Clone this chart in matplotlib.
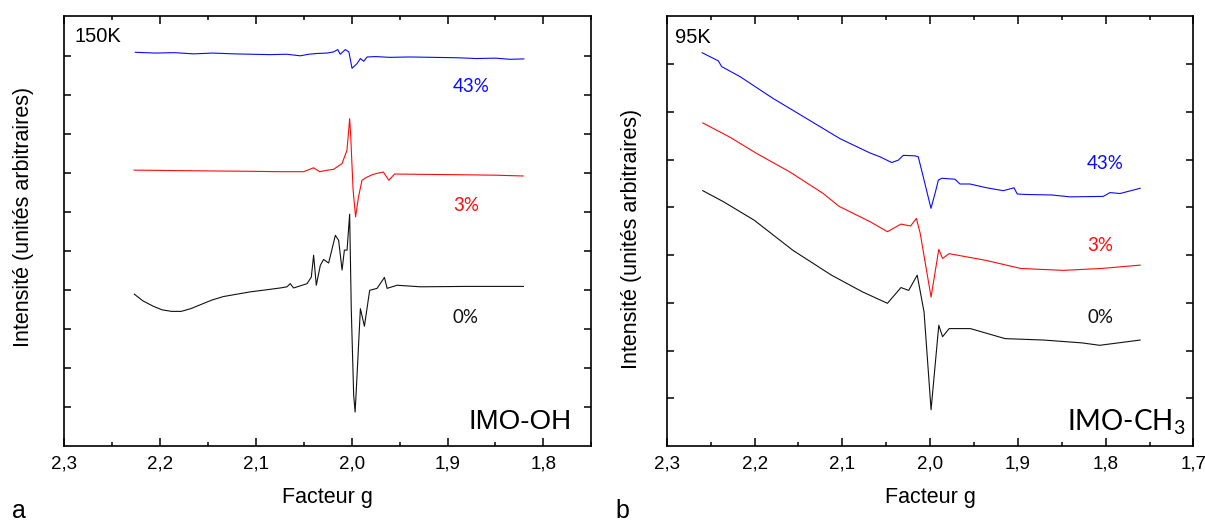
import matplotlib
matplotlib.use("Agg")
import matplotlib.pyplot as plt
from matplotlib.ticker import MultipleLocator

plt.rcParams['mathtext.fontset'] = 'custom'
plt.rcParams['mathtext.rm'] = 'Lato'

# ---------------- data: panel a (IMO-OH, 150K) ----------------
g_a_43 = [2.226, 2.205, 2.185, 2.165, 2.145, 2.1234, 2.105, 2.085, 2.068, 2.0537,
          2.045, 2.0363, 2.026, 2.0189, 2.0147, 2.012, 2.0067, 2.003, 1.9997, 1.9945,
          1.991, 1.9876, 1.984, 1.975, 1.96, 1.94, 1.9144, 1.89, 1.87, 1.85,
          1.835, 1.8204]
y_a_43 = [9.09, 9.07, 9.08, 9.05, 9.07, 9.05, 9.04, 9.03, 9.04, 9.00,
          9.04, 9.06, 9.07, 9.10, 9.16, 9.04, 9.16, 9.10, 8.68, 8.80,
          8.93, 8.86, 8.97, 8.98, 8.96, 8.97, 8.96, 8.95, 8.93, 8.94,
          8.91, 8.92]

g_a_3 = [2.227, 2.19, 2.15, 2.106, 2.075, 2.0503, 2.0398, 2.0335, 2.025, 2.019,
         2.0101, 2.005, 2.0035, 2.0022, 2.0012, 1.9986, 1.996, 1.993, 1.9893, 1.985,
         1.978, 1.9713, 1.967, 1.9613, 1.9553, 1.92, 1.88, 1.85, 1.821]
y_a_3 = [6.07, 6.06, 6.05, 6.04, 6.03, 6.03, 6.13, 6.03, 6.07, 6.09,
         6.24, 6.58, 7.00, 7.39, 7.00, 5.56, 4.87, 5.38, 5.81, 5.88,
         5.96, 6.00, 6.02, 5.81, 5.97, 5.96, 5.95, 5.94, 5.92]

g_a_0 = [2.2269, 2.218, 2.207, 2.198, 2.188, 2.178, 2.168, 2.158, 2.146, 2.134,
         2.12, 2.106, 2.09, 2.0746, 2.0676, 2.0642, 2.0607, 2.0467, 2.0422, 2.0398,
         2.037, 2.0328, 2.0294, 2.0241, 2.0171, 2.0137, 2.0101, 2.0077, 2.0049, 2.0022,
         2.0005, 1.998, 1.9965, 1.9945, 1.991, 1.9868, 1.9813, 1.9736, 1.9659, 1.9631,
         1.9527, 1.9283, 1.88, 1.8209]
y_a_0 = [2.89, 2.72, 2.58, 2.49, 2.45, 2.45, 2.52, 2.62, 2.74, 2.83,
         2.89, 2.95, 3.00, 3.05, 3.08, 3.16, 3.05, 3.16, 3.33, 3.89,
         3.12, 3.63, 3.78, 3.69, 4.40, 4.27, 3.51, 4.02, 4.02, 4.94,
         2.50, 0.30, -0.13, 0.80, 2.52, 2.07, 2.99, 3.04, 3.32, 3.04,
         3.12, 3.08, 3.09, 3.09]

# ---------------- data: panel b (IMO-CH3, 95K) ----------------
g_b_43 = [2.2597, 2.2413, 2.2375, 2.2166, 2.1787, 2.1406, 2.1027, 2.0685, 2.0571, 2.0438,
          2.0362, 2.0306, 2.0172, 2.0135, 2.0078, 1.999, 1.9944, 1.9906, 1.9868, 1.9716,
          1.966, 1.9546, 1.9355, 1.9166, 1.9044, 1.9007, 1.89, 1.8615, 1.8406, 1.8027,
          1.795, 1.7837, 1.7607]
y_b_43 = [7.24, 7.07, 6.95, 6.74, 6.28, 5.86, 5.44, 5.14, 5.06, 4.94,
          4.99, 5.09, 5.08, 5.06, 4.64, 3.98, 4.29, 4.57, 4.61, 4.59,
          4.49, 4.49, 4.41, 4.35, 4.41, 4.28, 4.27, 4.26, 4.22, 4.23,
          4.31, 4.29, 4.40]

g_b_3 = [2.259, 2.228, 2.1976, 2.1596, 2.1217, 2.1036, 2.0684, 2.0486, 2.0332, 2.0222,
         2.0156, 2.0112, 1.9989, 1.9901, 1.9858, 1.9783, 1.9365, 1.8969, 1.8486, 1.8046,
         1.7607]
y_b_3 = [5.77, 5.47, 5.13, 4.74, 4.29, 4.02, 3.70, 3.49, 3.65, 3.61,
         3.77, 3.45, 2.12, 3.12, 2.93, 3.03, 2.89, 2.72, 2.68, 2.72,
         2.79]

g_b_0 = [2.259, 2.2356, 2.2003, 2.1563, 2.1124, 2.0771, 2.0486, 2.0332, 2.0244, 2.0147,
         2.0069, 1.9989, 1.9901, 1.9858, 1.9783, 1.9541, 1.9146, 1.8706, 1.8266, 1.8068,
         1.7607]
y_b_0 = [4.35, 4.12, 3.73, 3.10, 2.58, 2.23, 1.99, 2.32, 2.26, 2.58,
         1.81, -0.24, 1.53, 1.29, 1.46, 1.46, 1.25, 1.22, 1.16, 1.11,
         1.22]

x_ticks_a = [2.3, 2.2, 2.1, 2.0, 1.9, 1.8]
x_ticks_b = [2.3, 2.2, 2.1, 2.0, 1.9, 1.8, 1.7]
x_labels_a = ["2,3", "2,2", "2,1", "2,0", "1,9", "1,8"]
x_labels_b = ["2,3", "2,2", "2,1", "2,0", "1,9", "1,8", "1,7"]
series_labels = ["43%", "3%", "0%"]
colors = ["#0a0aff", "#ff0a0a", "#111111"]

W, H = 1205, 522
fig = plt.figure(figsize=(W / 100, H / 100), dpi=100)

tick_font = dict(family="Liberation Sans", size=13.5)
label_font = dict(family="Liberation Sans", size=15.5)


def style_axis(ax, xlim, ylim, xt, xl, nyt):
    ax.set_xlim(*xlim)
    ax.set_ylim(*ylim)
    ax.set_xticks(xt)
    ax.set_xticklabels(xl, fontdict=tick_font)
    ax.xaxis.set_minor_locator(MultipleLocator(0.05))
    ax.set_yticks(list(range(nyt)))
    ax.set_yticklabels([])
    ax.tick_params(axis="both", which="both", direction="in",
                   top=True, right=True, width=1.1)
    ax.tick_params(axis="x", which="major", length=6, pad=7)
    ax.tick_params(axis="x", which="minor", length=3)
    ax.tick_params(axis="y", which="major", length=5)
    for s in ax.spines.values():
        s.set_linewidth(1.2)


def ax_rect(x0, x1, y0=16, y1=446):
    return [x0 / W, 1 - y1 / H, (x1 - x0) / W, (y1 - y0) / H]


# ---- panel a ----
axa = fig.add_axes(ax_rect(64.3, 591.3))
for g, y, c in zip([g_a_43, g_a_3, g_a_0], [y_a_43, y_a_3, y_a_0], colors):
    axa.plot(g, y, color=c, lw=0.8)
style_axis(axa, (2.3, 1.75), (-1.0, 10.02), x_ticks_a, x_labels_a, 10)
axa.text(0.020, 0.952, "150K", transform=axa.transAxes, ha="left", va="center",
         family="Liberation Sans", size=14.5)
axa.text(0.963, 0.055, "IMO-OH", transform=axa.transAxes, ha="right", va="center",
         family="Liberation Sans", size=20)
for lab, yy, c in zip(series_labels, [0.835, 0.560, 0.298], colors):
    axa.text(0.7375, yy, lab, transform=axa.transAxes, ha="left", va="center",
             family="Lato", size=13.5, color=c)

# ---- panel b ----
axb = fig.add_axes(ax_rect(666.8, 1193.4))
for g, y, c in zip([g_b_43, g_b_3, g_b_0], [y_b_43, y_b_3, y_b_0], colors):
    axb.plot(g, y, color=c, lw=0.8)
style_axis(axb, (2.3, 1.7), (-1.0, 8.01), x_ticks_b, x_labels_b, 8)
axb.text(0.016, 0.951, "95K", transform=axb.transAxes, ha="left", va="center",
         family="Liberation Sans", size=14.5)
axb.text(0.984, 0.055, r"IMO-CH$_\mathregular{3}$", transform=axb.transAxes,
         ha="right", va="center", family="Lato", size=20)
for lab, yy, c in zip(series_labels, [0.658, 0.467, 0.298], colors):
    axb.text(0.798, yy, lab, transform=axb.transAxes, ha="left", va="center",
             family="Lato", size=13.5, color=c)

# ---- figure labels ----
fig.text(24 / W, 1 - 217 / H, "Intensité (unités arbitraires)", rotation=90,
         ha="center", va="center", **label_font)
fig.text(631 / W, 1 - 239 / H, "Intensité (unités arbitraires)", rotation=90,
         ha="center", va="center", **label_font)
fig.text(327 / W, 1 - 497 / H, "Facteur g", ha="center", va="center", **label_font)
fig.text(930 / W, 1 - 497 / H, "Facteur g", ha="center", va="center", **label_font)
fig.text(19 / W, 1 - 511 / H, "a", ha="center", va="center",
         family="Liberation Sans", size=18)
fig.text(622 / W, 1 - 511 / H, "b", ha="center", va="center",
         family="Liberation Sans", size=18)

fig.savefig("out.png", dpi=100)
